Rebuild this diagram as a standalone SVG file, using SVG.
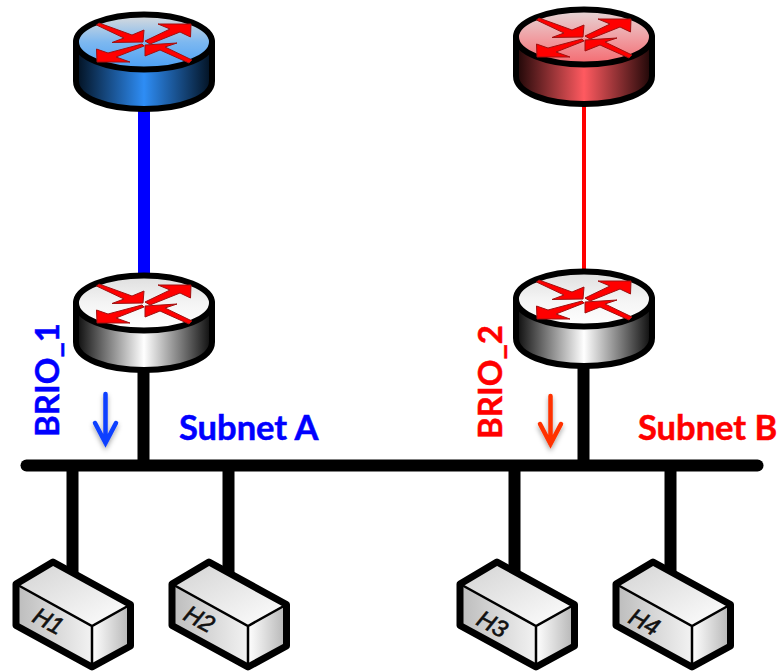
<svg xmlns="http://www.w3.org/2000/svg" xmlns:xlink="http://www.w3.org/1999/xlink" width="780" height="672" viewBox="0 0 780 672">
<defs>
<style>
.wire{stroke:#000;stroke-width:12;fill:none}
.ol{stroke:#000;stroke-width:6;stroke-linejoin:round}
.arw{fill:#f00;stroke:#a01010;stroke-width:1}
.lbl{font-family:"Lato","Open Sans",sans-serif;font-weight:700;font-size:34.500px;stroke-width:.5}
.brio{font-family:"Lato","Open Sans",sans-serif;font-weight:700;font-size:33px;stroke-width:.5}
.blue{fill:#0000ff;stroke:#0000ff}
.red{fill:#ff0000;stroke:#ff0000}
.hl{font-family:"Liberation Sans",Arial,sans-serif;font-style:italic;font-size:24px;fill:#111;stroke:#111;stroke-width:.6}
</style>
<linearGradient id="topB" x1="0" y1="0" x2="0" y2="1"><stop offset="0" stop-color="#dcdcdc"/><stop offset=".5" stop-color="#7db8f0"/><stop offset="1" stop-color="#4a9ff5"/></linearGradient>
<linearGradient id="sideB"><stop offset="0" stop-color="#02101f"/><stop offset=".5" stop-color="#2e8df5"/><stop offset="1" stop-color="#02101f"/></linearGradient>
<linearGradient id="topR" x1="0" y1="0" x2="0" y2="1"><stop offset="0" stop-color="#e4d8d8"/><stop offset=".5" stop-color="#f0a0a4"/><stop offset="1" stop-color="#f46a70"/></linearGradient>
<linearGradient id="sideR"><stop offset="0" stop-color="#1c0606"/><stop offset=".5" stop-color="#ff5a60"/><stop offset="1" stop-color="#1c0606"/></linearGradient>
<linearGradient id="topW" x1="0" y1="0" x2="0" y2="1"><stop offset="0" stop-color="#dedede"/><stop offset=".5" stop-color="#f4f4f4"/><stop offset="1" stop-color="#fff"/></linearGradient>
<linearGradient id="sideW"><stop offset="0" stop-color="#0a0a0a"/><stop offset=".5" stop-color="#fff"/><stop offset="1" stop-color="#0a0a0a"/></linearGradient>
<linearGradient id="hTop" x1="0" y1="0" x2="1" y2="1"><stop offset="0" stop-color="#d2d2d2"/><stop offset="1" stop-color="#fff"/></linearGradient>
<linearGradient id="hLeft" x1="0" y1="0" x2="1" y2="0"><stop offset="0" stop-color="#bcbcbc"/><stop offset="1" stop-color="#f2f2f2"/></linearGradient>
<linearGradient id="hRight" x1="0" y1="0" x2="1" y2="0"><stop offset="0" stop-color="#fff"/><stop offset="1" stop-color="#b4b4b4"/></linearGradient>
<filter id="soft" x="-60%" y="-20%" width="220%" height="150%"><feDropShadow dx="0" dy="3" stdDeviation="2.500" flood-color="#000" flood-opacity=".35"/></filter>
<g id="arrows">
<polygon class="arw" points="-47.500,-17 -45,-19 -12,-7 0,-12 -1,0 -32,0.500 -20,-4"/>
<polygon class="arw" points="1,-1 26,-13 14,-18 47,-18 46.500,-5 36,-10 6,2"/>
<polygon class="arw" points="-2,2 0,4 -28,15 -14,20 -47,20 -47.500,7 -36,11"/>
<polygon class="arw" points="48,18 45,21 16,8 1,14 1,3 33,1 21,5"/>
</g>
<g id="host">
<path fill="url(#hTop)" d="M53,562L130.500,604.500L92,626L16,584Z"/>
<path fill="url(#hLeft)" d="M16,584L92,626V667L16,625.500Z"/>
<path fill="url(#hRight)" d="M92,626L130.500,604.500V646L92,667Z"/>
<path d="M16,584L92,626L130.500,604.500M92,626V667" fill="none" stroke="#000" stroke-width="2.500"/>
<path d="M53,562L16,584V625.500L92,667L130.500,646V604.500Z" fill="none" stroke="#000" stroke-width="7" stroke-linejoin="round"/>
</g>
</defs>
<rect width="780" height="672" fill="#fff"/>
<g id="connectors">
<line x1="144" y1="100" x2="144" y2="280" stroke="#0000ff" stroke-width="12"/>
<line x1="584" y1="100" x2="584" y2="280" stroke="#ff0000" stroke-width="4"/>
<line class="wire" x1="26.500" y1="465.500" x2="757.500" y2="465.500" stroke-linecap="round"/>
<line class="wire" x1="143.500" y1="360" x2="143.500" y2="465"/>
<line class="wire" x1="583.500" y1="360" x2="583.500" y2="465"/>
<line class="wire" x1="72.500" y1="465" x2="72.500" y2="575"/>
<line class="wire" x1="228.500" y1="465" x2="228.500" y2="575"/>
<line class="wire" x1="514.500" y1="465" x2="514.500" y2="575"/>
<line class="wire" x1="670.500" y1="465" x2="670.500" y2="575"/>
</g>
<g id="router-blue" transform="translate(144,42)">
<path class="ol" fill="url(#sideB)" d="M-68,0V39C-68,56 -37,67 0,67C37,67 68,56 68,39V0Z"/>
<ellipse class="ol" cx="0" cy="0" rx="68" ry="27.500" fill="url(#topB)"/>
<use xlink:href="#arrows" href="#arrows"/>
</g>
<g id="router-red" transform="translate(584,37)">
<path class="ol" fill="url(#sideR)" d="M-68,0V39C-68,56 -37,67 0,67C37,67 68,56 68,39V0Z"/>
<ellipse class="ol" cx="0" cy="0" rx="68" ry="27.500" fill="url(#topR)"/>
<use xlink:href="#arrows" href="#arrows"/>
</g>
<g id="BRIO_1-router" transform="translate(144,303)">
<path class="ol" fill="url(#sideW)" d="M-68,0V39C-68,56 -37,67 0,67C37,67 68,56 68,39V0Z"/>
<ellipse class="ol" cx="0" cy="0" rx="68" ry="27.500" fill="url(#topW)"/>
<use xlink:href="#arrows" href="#arrows"/>
</g>
<g id="BRIO_2-router" transform="translate(584,299)">
<path class="ol" fill="url(#sideW)" d="M-68,0V39C-68,56 -37,67 0,67C37,67 68,56 68,39V0Z"/>
<ellipse class="ol" cx="0" cy="0" rx="68" ry="27.500" fill="url(#topW)"/>
<use xlink:href="#arrows" href="#arrows"/>
</g>
<g id="H1"><use xlink:href="#host" href="#host"/><text class="hl" transform="translate(31,621) rotate(28)">H1</text></g>
<g id="H2"><use xlink:href="#host" href="#host" x="156"/><text class="hl" transform="translate(182,619) rotate(28)">H2</text></g>
<g id="H3"><use xlink:href="#host" href="#host" x="444"/><text class="hl" transform="translate(475,624) rotate(28)">H3</text></g>
<g id="H4"><use xlink:href="#host" href="#host" x="600"/><text class="hl" transform="translate(627,622) rotate(28)">H4</text></g>
<g id="label-BRIO_1"><text class="brio blue" transform="translate(59,437) rotate(-90)">BRIO_1</text></g>
<g id="label-BRIO_2"><text class="brio red" transform="translate(502,439) rotate(-90)">BRIO_2</text></g>
<g id="label-subnet-a"><text class="lbl blue" x="179" y="440">Subnet A</text></g>
<g id="label-subnet-b"><text class="lbl red" x="638" y="440">Subnet B</text></g>
<g id="arrow-blue" filter="url(#soft)"><path d="M105.500,394V443M95,423L105.500,443L116,423" fill="none" stroke="#0f3fff" stroke-width="4.500" stroke-linecap="round"/></g>
<g id="arrow-red" filter="url(#soft)"><path d="M550.500,396V444M540,424L550.500,444L561,424" fill="none" stroke="#ff3300" stroke-width="4.500" stroke-linecap="round"/></g>
</svg>
